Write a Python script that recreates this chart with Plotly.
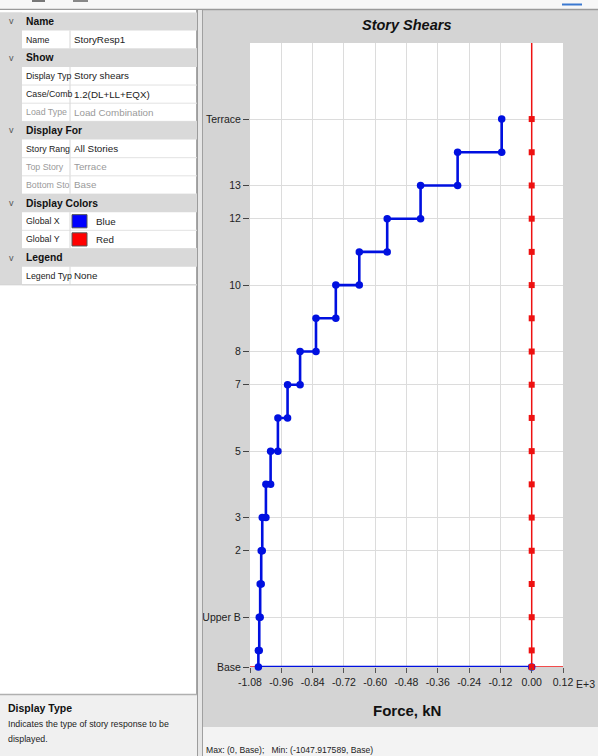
import plotly.graph_objects as go

W, H = 598, 756

# ---------------- data ----------------
story_levels = ["Base", "Plinth", "Upper B", "1", "2", "3", "4", "5", "6", "7",
                "8", "9", "10", "11", "12", "13", "14", "Terrace"]
level_elev_m = [0, 1.5, 4.5, 7.5, 10.5, 13.5, 16.5, 19.5, 22.5, 25.5,
                28.5, 31.5, 34.5, 37.5, 40.5, 43.5, 46.5, 49.5]
# storey shear (kN) of each storey, bottom storey first (storey i spans level i -> i+1)
shear_global_x_kN = [-1047.9, -1044.5, -1041, -1037, -1033, -1019, -1001, -973,
                     -936, -888, -827, -751, -661, -554, -426, -284, -115]
shear_global_y_kN = [0, 0, 0, 0, 0, 0, 0, 0, 0, 0, 0, 0, 0, 0, 0, 0, 0]

y_tick_stories = ["Base", "Upper B", "2", "3", "5", "7", "8", "10", "12", "13", "Terrace"]
x_tick_vals = [-1080, -960, -840, -720, -600, -480, -360, -240, -120, 0, 120]
x_tick_text = ["-1.08", "-0.96", "-0.84", "-0.72", "-0.60", "-0.48", "-0.36",
               "-0.24", "-0.12", "0.00", "0.12"]
x_range = [-1080, 120]
y_range = [0, 56.37]

# ---------------- style ----------------
FONT = "Liberation Sans, Arial, sans-serif"
BLUE = "#0010e0"
RED = "#ee1111"
CHART_BG = "#d4d4d4"
GRID_HDR = "#d9d9d9"

PX0, PX1, PY0, PY1 = 250, 563, 43, 667


def px(x):
    return x / W


def py(y):
    return 1 - y / H


bx, by = [], []
for i in reversed(range(len(shear_global_x_kN))):
    v = shear_global_x_kN[i]
    bx += [v, v]
    by += [level_elev_m[i + 1], level_elev_m[i]]
bx.append(0)
by.append(0)

ry_x = []
ry_y = []
for i in range(len(level_elev_m)):
    v = shear_global_y_kN[min(i, len(shear_global_y_kN) - 1)]
    ry_x.append(v)
    ry_y.append(level_elev_m[i])

fig = go.Figure()
fig.add_trace(go.Scatter(x=x_range, y=[0, 0], mode="lines",
                         line=dict(color=RED, width=1.5), hoverinfo="skip", showlegend=False))
fig.add_trace(go.Scatter(x=bx, y=by, mode="lines+markers",
                         line=dict(color=BLUE, width=2.6),
                         marker=dict(color=BLUE, size=7.5, symbol="circle"),
                         cliponaxis=False, showlegend=False, name="Global X"))
fig.add_trace(go.Scatter(x=[0, 0], y=y_range, mode="lines",
                         line=dict(color=RED, width=1.5), hoverinfo="skip", showlegend=False))
fig.add_trace(go.Scatter(x=ry_x, y=ry_y, mode="markers",
                         marker=dict(color=RED, size=6, symbol="square"),
                         cliponaxis=False, showlegend=False, name="Global Y"))

y_tick_vals = [level_elev_m[story_levels.index(s)] for s in y_tick_stories]

fig.update_layout(
    width=W, height=H,
    margin=dict(l=0, r=0, t=0, b=0, pad=0, autoexpand=False),
    paper_bgcolor=CHART_BG,
    plot_bgcolor="white",
    font=dict(family=FONT, size=10, color="#222"),
    xaxis=dict(domain=[px(PX0), px(PX1)], range=x_range, tickvals=x_tick_vals,
               ticktext=x_tick_text, showgrid=True, gridcolor="#dcdcdc", gridwidth=1,
               zeroline=False, showline=False, ticks="outside", ticklen=5,
               automargin=False, tickcolor="#555",
               tickfont=dict(family=FONT, size=10.5, color="#222")),
    yaxis=dict(domain=[py(PY1), py(PY0)], range=y_range, tickvals=y_tick_vals,
               ticktext=y_tick_stories, showgrid=True, gridcolor="#dcdcdc", gridwidth=1,
               zeroline=False, showline=False, ticks="outside", ticklen=6,
               automargin=False, tickcolor="#444",
               tickfont=dict(family=FONT, size=10.5, color="#222")),
)

shapes = []
anns = []


def rect(x0, y0, x1, y1, fill, line=None, lw=1):
    shapes.append(dict(type="rect", xref="paper", yref="paper", layer="above",
                       x0=px(x0), x1=px(x1), y0=py(y1), y1=py(y0),
                       fillcolor=fill, line=dict(color=line or fill, width=lw if line else 0)))


def hline(x0, x1, y, color, w=1):
    shapes.append(dict(type="line", xref="paper", yref="paper", layer="above",
                       x0=px(x0), x1=px(x1), y0=py(y), y1=py(y), line=dict(color=color, width=w)))


def vline(x, y0, y1, color, w=1):
    shapes.append(dict(type="line", xref="paper", yref="paper", layer="above",
                       x0=px(x), x1=px(x), y0=py(y0), y1=py(y1), line=dict(color=color, width=w)))


def text(t, x, y, size=11, color="#222", xanchor="left", bold=False, italic=False):
    if bold:
        t = "<b>" + t + "</b>"
    if italic:
        t = "<i>" + t + "</i>"
    anns.append(dict(text=t, xref="paper", yref="paper", x=px(x), y=py(y),
                     xanchor=xanchor, yanchor="middle", showarrow=False, borderpad=0,
                     font=dict(family=FONT, size=size, color=color)))


# top strip
rect(0, 0, W, 9, "#f7f7f7")
rect(32, 0, 45, 2, "#777")
rect(73, 0, 88, 2, "#888")
hline(562, 582, 4.5, "#3a78d0", 2)
hline(0, W, 9.5, "#9a9a9a", 1.5)

# left panel
rect(0, 10, 197, 695, "white")
vline(197, 10, 756, "#8a8a8a", 1.5)
rect(198, 10, 202, 756, "#e6e6e6")
vline(202.5, 10, 756, "#a0a0a0", 1)

rows = [
    ("h", "Name", None, None),
    ("r", "Name", "StoryResp1", None),
    ("h", "Show", None, None),
    ("r", "Display Typ", "Story shears", None),
    ("r", "Case/Comb", "1.2(DL+LL+EQX)", None),
    ("g", "Load Type", "Load Combination", None),
    ("h", "Display For", None, None),
    ("r", "Story Rang", "All Stories", None),
    ("g", "Top Story", "Terrace", None),
    ("g", "Bottom Sto", "Base", None),
    ("h", "Display Colors", None, None),
    ("r", "Global X", "Blue", "#0000ff"),
    ("r", "Global Y", "Red", "#ff0000"),
    ("h", "Legend", None, None),
    ("r", "Legend Typ", "None", None),
]
ROW_H = 18.16
top = 12.4
rect(0, top, 22, top + ROW_H * len(rows), GRID_HDR)
for i, (kind, lab, val, sw) in enumerate(rows):
    y0 = top + i * ROW_H
    yc = y0 + ROW_H / 2
    if kind == "h":
        rect(0, y0, 197, y0 + ROW_H, GRID_HDR)
        text("v", 8, yc, 9, "#555")
        text(lab, 25, yc, 10.3, "#111", bold=True)
    else:
        col = "#222" if kind == "r" else "#9a9a9a"
        vline(70, y0, y0 + ROW_H, "#d6d6d6")
        hline(22, 197, y0 + ROW_H, "#e2e2e2")
        text(lab, 25, yc, 8.8, col)
        if sw:
            rect(72, y0 + 2.5, 87, y0 + ROW_H - 2.5, sw, "#555", 1)
            text(val, 95, yc, 9.8, col)
        else:
            text(val, 72.5, yc, 9.8, col)
hline(0, 197, top + ROW_H * len(rows), "#d0d0d0")

# description box
rect(0, 695, 197, 756, "#f0f0f0")
hline(0, 197, 694.5, "#b0b0b0", 1.5)
text("Display Type", 7, 708, 10.5, "#111", bold=True)
text("Indicates the type of story response to be", 7, 724, 8.8, "#222")
text("displayed.", 7, 739, 8.8, "#222")

# chart panel bottom info strip
rect(203, 727, W, 756, "#f3f3f3")
text("Max: (0, Base);   Min: (-1047.917589, Base)", 205, 750, 8.6, "#222")

# chart texts
text("Story Shears", (PX0 + PX1) / 2, 25, 14.5, "#111", xanchor="center", bold=True, italic=True)
text("Force, kN", (PX0 + PX1) / 2, 710, 15, "#111", xanchor="center", bold=True)
text("E+3", 575, 683.5, 10.5, "#222")

fig.update_layout(shapes=shapes, annotations=anns)
fig.write_html("out.html", config={"displayModeBar": False},
               post_script="document.body.style.margin='0';document.body.style.overflow='hidden';")
